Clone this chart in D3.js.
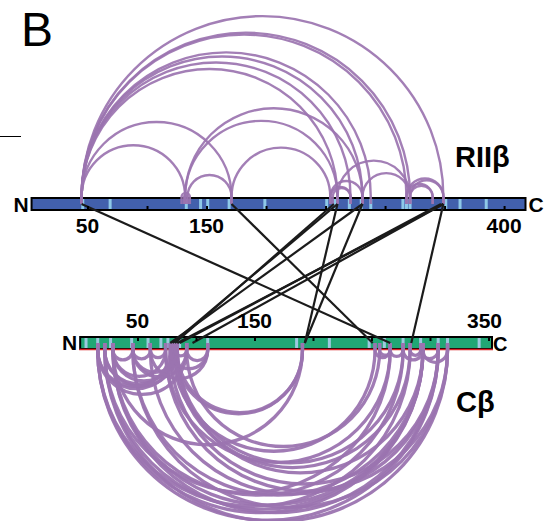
<!DOCTYPE html>
<html>
<head>
<meta charset="utf-8">
<script src="https://cdn.jsdelivr.net/npm/d3@7"></script>
<style>
  body { margin: 0; background: #fff; }
  text { font-family: "Liberation Sans", Arial, sans-serif; }
</style>
</head>
<body>
<div id="chart"></div>
<script>
var width = 546, height = 521;
var purple = "#9b74b0";

// RIIβ (top protein) and Cβ (bottom protein) lengths
var topLength = 418;
var bottomLength = 353;

// lysine positions shown as light stripes on each bar
var topStripes = [46, 69, 133, 145, 151, 169, 199, 251, 258, 270, 280, 288, 315, 318, 321, 351, 363, 385];
var bottomStripes = [6, 16, 27, 45, 59, 70, 76, 86, 110, 186, 214, 248, 261, 277, 292, 307, 315, 342];

var topTicks = [50, 100, 150, 200, 250, 300, 350, 400];
var topTickLabels = [50, 150, 400];
var bottomTicks = [50, 100, 150, 200, 250, 300, 350];
var bottomTickLabels = [50, 150, 350];

// intra-protein cross-links (purple arcs)
var topLinks = [
  [45, 349], [45, 321], [45, 318], [45, 288], [45, 281], [45, 271], [45, 260],
  [45, 171], [45, 132], [132, 281], [132, 260], [134, 171], [171, 254],
  [254, 271], [260, 321], [281, 321], [321, 349], [318, 340], [318, 349],
  [129, 136], [131, 134], [254, 281], [256, 271], [321, 340]
];
var bottomLinks = [
  [16, 307], [22, 315], [16, 294], [22, 294], [29, 307], [29, 294], [16, 283],
  [46, 315], [61, 307], [74, 315], [46, 294], [29, 277], [78, 307], [84, 294],
  [82, 283], [74, 266], [80, 253], [84, 277], [92, 257], [22, 266],
  [82, 191], [84, 191], [29, 191], [16, 82], [22, 80], [16, 92], [22, 84],
  [29, 82], [16, 78], [46, 92], [61, 110], [78, 110], [29, 74], [46, 84],
  [29, 46], [46, 61], [61, 74], [82, 92], [92, 110],
  [253, 266], [266, 277], [283, 292], [292, 307], [277, 294], [294, 315], [257, 266]
];

// inter-protein cross-links: [RIIβ residue, Cβ residue]
var interLinks = [
  [45, 266], [171, 251], [260, 80], [257, 82], [281, 78], [260, 193],
  [281, 193], [349, 84], [347, 86], [349, 97], [349, 284]
];

var xTop = d3.scaleLinear().domain([0, topLength]).range([28, 525.5]);
var xBot = d3.scaleLinear().domain([0, bottomLength]).range([79, 492]);

var topBarY = 198, barH = 12;
var botBarY = 337;

var svg = d3.select("#chart")
  .append("svg")
    .attr("width", width)
    .attr("height", height);

svg.append("rect").attr("width", width).attr("height", height).attr("fill", "#fff");

// panel letter and stray rule
svg.append("text")
  .text("B")
  .attr("x", 21)
  .attr("y", 46)
  .style("font-size", "48px");

svg.append("line")
  .attr("x1", 0).attr("x2", 21)
  .attr("y1", 136.5).attr("y2", 136.5)
  .attr("stroke", "#000")
  .attr("stroke-width", 1);

// bars
svg.append("rect")
  .attr("x", xTop(3))
  .attr("y", topBarY)
  .attr("width", xTop(topLength) - xTop(3))
  .attr("height", barH)
  .attr("fill", "#4260ac")
  .attr("stroke", "#000")
  .attr("stroke-width", 2);

svg.selectAll(".topStripe")
  .data(topStripes)
  .enter().append("rect")
    .attr("class", "topStripe")
    .attr("x", function(d) { return xTop(d) - 1.5; })
    .attr("y", topBarY + 1)
    .attr("width", 3)
    .attr("height", barH - 2)
    .attr("fill", "#8ec9e8");

svg.append("rect")
  .attr("x", xBot(1))
  .attr("y", botBarY)
  .attr("width", xBot(bottomLength) - xBot(1))
  .attr("height", barH)
  .attr("fill", "#21a775")
  .attr("stroke", "#000")
  .attr("stroke-width", 2);

svg.selectAll(".botStripe")
  .data(bottomStripes)
  .enter().append("rect")
    .attr("class", "botStripe")
    .attr("x", function(d) { return xBot(d) - 1.5; })
    .attr("y", botBarY + 1)
    .attr("width", 3)
    .attr("height", barH - 2)
    .attr("fill", "#9dc9df");

svg.append("line")
  .attr("x1", xBot(1) - 1).attr("x2", xBot(bottomLength) + 1)
  .attr("y1", botBarY + barH + 0.5).attr("y2", botBarY + barH + 0.5)
  .attr("stroke", "#d8262a")
  .attr("stroke-width", 1.6);

// arcs above (top) and below (bottom)
function arcPath(x1, x2, base, stub, up) {
  var a = Math.min(x1, x2), b = Math.max(x1, x2);
  var r = (b - a) / 2;
  var p = d3.path();
  p.moveTo(a, stub);
  p.lineTo(a, base);
  if (up) p.arc((a + b) / 2, base, r, Math.PI, 2 * Math.PI, false);
  else p.arc((a + b) / 2, base, r, Math.PI, 0, true);
  p.lineTo(b, stub);
  return p.toString();
}

svg.append("g")
  .selectAll("path")
  .data(topLinks)
  .enter().append("path")
    .attr("d", function(d) { return arcPath(xTop(d[0]), xTop(d[1]), topBarY - 1, topBarY + 6, true); })
    .attr("fill", "none")
    .attr("stroke", purple)
    .attr("stroke-opacity", 0.92)
    .attr("stroke-width", 2.4);

svg.append("g")
  .selectAll("path")
  .data(bottomLinks)
  .enter().append("path")
    .attr("d", function(d) { return arcPath(xBot(d[0]), xBot(d[1]), botBarY + barH + 1, botBarY + 6, false); })
    .attr("fill", "none")
    .attr("stroke", purple)
    .attr("stroke-opacity", 0.95)
    .attr("stroke-width", 3.3);

// inter-protein lines
svg.append("g")
  .selectAll("line")
  .data(interLinks)
  .enter().append("line")
    .attr("x1", function(d) { return xTop(d[0]); })
    .attr("y1", topBarY + 6)
    .attr("x2", function(d) { return xBot(d[1]); })
    .attr("y2", botBarY + 6)
    .attr("stroke", "#1b1b1b")
    .attr("stroke-width", 2.2);

// ticks
svg.append("g")
  .attr("transform", "translate(0," + (topBarY + barH) + ")")
  .call(d3.axisTop(xTop).tickValues(topTicks).tickSize(4).tickFormat(""))
  .call(function(g) { g.select(".domain").remove(); })
  .selectAll("line").attr("stroke", "#000").attr("stroke-width", 2);

svg.append("g")
  .attr("transform", "translate(0," + botBarY + ")")
  .call(d3.axisBottom(xBot).tickValues(bottomTicks).tickSize(4).tickFormat(""))
  .call(function(g) { g.select(".domain").remove(); })
  .selectAll("line").attr("stroke", "#000").attr("stroke-width", 2);

// tick labels
svg.selectAll(".topLabel")
  .data(topTickLabels)
  .enter().append("text")
    .attr("class", "topLabel")
    .text(function(d) { return d; })
    .attr("x", function(d) { return xTop(d); })
    .attr("y", 233)
    .attr("text-anchor", "middle")
    .style("font-size", "21px")
    .style("font-weight", "bold");

svg.selectAll(".botLabel")
  .data(bottomTickLabels)
  .enter().append("text")
    .attr("class", "botLabel")
    .text(function(d) { return d; })
    .attr("x", function(d) { return xBot(d) - (d === 350 ? 4 : 0); })
    .attr("y", 328)
    .attr("text-anchor", "middle")
    .style("font-size", "21px")
    .style("font-weight", "bold");

// terminus letters
function term(t, x, y, anchor, size) {
  svg.append("text")
    .text(t)
    .attr("x", x).attr("y", y)
    .attr("text-anchor", anchor)
    .style("font-size", size + "px")
    .style("font-weight", "bold");
}
term("N", xTop(3) - 3, 212, "end", 21);
term("C", xTop(topLength) + 3, 212, "start", 21);
term("N", xBot(1) - 3, 350, "end", 21);
term("C", xBot(bottomLength) + 1, 351, "start", 20);

// protein names
svg.append("text")
  .text("RIIβ")
  .attr("x", 455)
  .attr("y", 167)
  .style("font-size", "29px")
  .style("font-weight", "bold");

svg.append("text")
  .text("Cβ")
  .attr("x", 456)
  .attr("y", 412)
  .style("font-size", "29px")
  .style("font-weight", "bold");
</script>
</body>
</html>
